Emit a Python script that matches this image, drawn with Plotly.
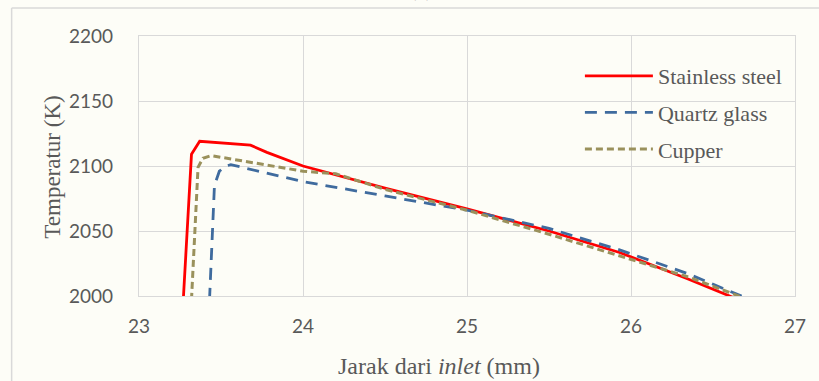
import plotly.graph_objects as go

# Data
ss_x = [23.27, 23.32, 23.37, 23.68, 23.78, 24.0, 24.5, 25.0, 25.5, 25.93, 26.34, 26.64]
ss_t = [1997, 2109, 2119, 2116, 2110.5, 2100, 2083, 2067, 2050, 2033.5, 2013.5, 1998]

qg_x = [23.43, 23.46, 23.49, 23.53, 23.56, 24.0, 24.5, 25.0, 25.5, 25.93, 26.34, 26.71]
qg_t = [1997, 2085, 2096, 2100, 2101, 2088, 2077, 2066, 2052, 2035.5, 2017.5, 1998]

cu_x = [23.32, 23.36, 23.39, 23.44, 24.0, 24.2, 24.5, 25.0, 25.5, 25.93, 26.34, 26.70]
cu_t = [1997, 2099, 2106, 2108, 2096, 2094, 2082, 2066, 2047.5, 2031, 2015, 1998]

names = ["Stainless steel", "Quartz glass", "Cupper"]
x_ticks = [23, 24, 25, 26, 27]
y_ticks = [2000, 2050, 2100, 2150, 2200]

BG = "#fdfdf7"
GRID = "#d9d9d9"
TXT = "#595959"

fig = go.Figure()
fig.add_trace(go.Scatter(x=ss_x, y=ss_t, mode="lines", name=names[0], legendgroup="a",
                         line=dict(color="#ff0000", width=2.8)))
fig.add_trace(go.Scatter(x=qg_x, y=qg_t, mode="lines", name=names[1], legendgroup="b",
                         line=dict(color="#3f6b9e", width=2.8, dash="12px,8px")))
fig.add_trace(go.Scatter(x=cu_x, y=cu_t, mode="lines", name=names[2], legendgroup="c",
                         line=dict(color="#9a915c", width=3, dash="7px,4px")))

L, R, T, B = 139.3, 24, 36, 85
W, H = 819, 381
pw = W - L - R
ph = H - T - B

def px2paper_x(px):
    return (px - L) / pw

def px2paper_y(py):
    return (H - B - py) / ph

fig.update_layout(
    width=W, height=H,
    margin=dict(l=L, r=R, t=T, b=B),
    paper_bgcolor=BG, plot_bgcolor=BG,
    showlegend=True,
    legend=dict(
        x=px2paper_x(580), y=px2paper_y(55), xanchor="left", yanchor="top",
        bgcolor="rgba(0,0,0,0)",
        font=dict(family="Liberation Serif", size=22, color=TXT),
        tracegroupgap=5, itemwidth=68,
    ),
    xaxis=dict(
        range=[23, 27], tickvals=x_ticks, ticktext=[str(v) for v in x_ticks],
        showgrid=True, gridcolor=GRID, gridwidth=1.3,
        showline=True, linecolor=GRID, linewidth=1.3, mirror=True,
        zeroline=False, ticks="", ticklabelstandoff=13,
        tickfont=dict(family="Lato", size=19, color=TXT),
    ),
    yaxis=dict(
        range=[2000, 2200], tickvals=y_ticks, ticktext=[str(v) for v in y_ticks],
        showgrid=True, gridcolor=GRID, gridwidth=1.3,
        showline=True, linecolor=GRID, linewidth=1.3, mirror=True,
        zeroline=False, ticks="", ticklabelstandoff=21,
        tickfont=dict(family="Lato", size=19, color=TXT),
    ),
    annotations=[
        dict(text="Jarak dari <i>inlet</i> (mm)", xref="paper", yref="paper",
             x=px2paper_x(439), y=px2paper_y(366), xanchor="center", yanchor="middle",
             showarrow=False, font=dict(family="Liberation Serif", size=24, color=TXT)),
        dict(text="Temperatur (K)", xref="paper", yref="paper", textangle=-90,
             x=px2paper_x(52), y=px2paper_y(167), xanchor="center", yanchor="middle",
             showarrow=False, font=dict(family="Liberation Serif", size=23, color=TXT)),
        dict(text="(c)", xref="paper", yref="paper",
             x=px2paper_x(421), y=px2paper_y(3), xanchor="center", yanchor="bottom",
             showarrow=False, font=dict(family="Liberation Serif", size=22, color=TXT)),
    ],
    shapes=[
        dict(type="line", xref="paper", yref="paper",
             x0=px2paper_x(12), x1=px2paper_x(12), y0=px2paper_y(8), y1=px2paper_y(381),
             line=dict(color=GRID, width=1.5)),
        dict(type="line", xref="paper", yref="paper",
             x0=px2paper_x(12), x1=px2paper_x(819), y0=px2paper_y(8), y1=px2paper_y(8),
             line=dict(color=GRID, width=1.5)),
    ],
)

fig.write_html("out.html")
